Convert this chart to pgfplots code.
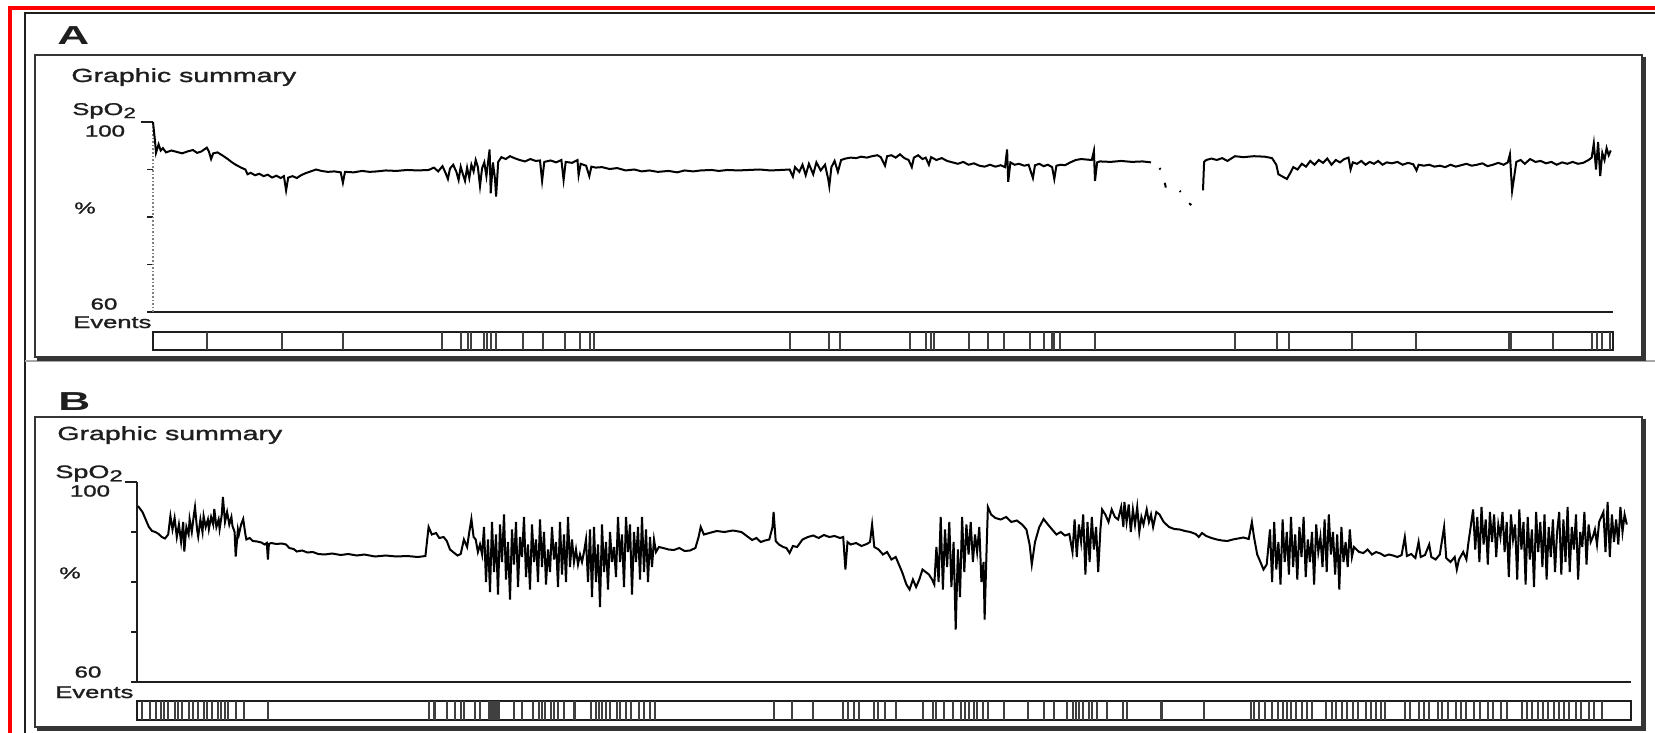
\documentclass[border=0pt]{standalone}
\usepackage{fontspec}
\setmainfont{Liberation Sans}
\newfontfamily\labfont[FakeBold=1.2]{Liberation Sans}
\usepackage{graphicx}
\usepackage{pgfplots}
\usepackage{pgfplotstable}
\pgfplotsset{compat=1.18}
\newcommand{\ws}[1]{\scalebox{1.5}[1]{#1}}
\definecolor{ink}{HTML}{1E1E1E}

\pgfplotstableread{
x y
153 100.0
155 96.0
156 93.5
158.6 95.3
160.7 94.0
162.9 94.5
166 93.6
171.4 94.0
176.8 93.7
182.1 93.4
187.5 93.8
192.9 94.1
197.1 93.5
201.4 93.8
206.8 94.6
208.9 93.8
211.1 92.2
213.2 93.4
217.5 93.6
222.9 92.9
227.1 92.3
231.4 91.6
235.7 91.0
241.1 90.4
245.4 90.0
247.5 89.0
250.7 89.3
255 88.8
259.3 89.1
263.6 88.6
267.9 88.9
272.1 88.3
276.4 88.7
280.7 88.2
283.9 88.6
286.1 85.6
288.2 88.3
292.5 88.6
296.8 88.2
301.1 88.8
305.3 89.2
310.7 89.6
316.1 90.0
321.4 89.7
327.9 89.5
334.3 89.6
340.7 89.4
342.9 87.2
345 89.5
353.6 89.4
362.1 89.7
369.6 89.5
377.1 89.6
385.7 89.8
396.4 89.7
407.1 89.9
417.9 89.8
428.6 89.9
433.9 90.4
438.2 89.6
442.5 90.7
445.7 89.2
447.9 88.0
450 90.2
453.2 91.0
456.4 89.5
458.6 87.8
460.7 90.6
462.9 89.0
465 87.6
467.1 90.4
469.3 88.2
471.4 91.0
473.6 89.6
475.7 92.0
477.9 90.5
480 86.5
482.1 90.3
484.3 91.5
486.4 88.6
488.6 92.5
489.6 94.2
490.7 85.0
492.9 91.5
495 88.0
496.1 84.3
498.2 91.6
501.4 92.6
505.7 92.2
510 92.8
514.3 92.4
519.6 92.0
525 91.7
530.4 92.2
535.7 91.8
540 91.9
542.1 87.6
544.3 91.6
550.7 91.9
556.1 91.5
561.4 92.0
563.6 87.8
565.7 91.6
572.1 91.4
577.5 92.0
578.6 88.8
580.7 91.2
586.1 90.8
589.3 88.6
591.4 90.6
595.7 90.4
602.1 90.5
609.6 90.1
617.1 90.3
625.7 89.8
634.3 90.0
641.8 89.6
649.3 89.8
657.9 89.5
668.6 89.7
677.1 89.4
684.6 89.8
693.2 89.6
700.7 89.8
711.4 89.9
718.9 89.7
727.5 89.9
738.2 89.8
748.9 89.9
759.6 90.0
770.4 89.8
781.1 89.9
789.6 90.0
792.9 88.5
795 90.5
799.3 89.5
802.5 91.0
805.7 88.8
808.9 91.2
813.2 89.0
816.4 91.5
820.7 89.8
825 91.0
828.2 88.0
829.3 86.5
831.4 90.5
834.6 91.8
837.9 89.5
841.1 92.0
845.4 92.3
850.7 92.5
856.1 92.4
861.4 92.7
866.8 92.5
872.1 92.8
877.5 93.0
880.7 92.6
885 90.8
887.1 92.8
891.4 93.0
895.7 92.5
900 93.2
904.3 92.4
908.6 92.0
911.8 90.5
913.9 92.5
918.2 93.0
922.5 92.2
925.7 92.5
928.9 91.0
931.1 92.6
936.4 92.0
941.8 92.4
947.1 91.8
952.5 91.5
957.9 91.2
963.2 91.6
968.6 91.0
973.9 91.3
979.3 90.8
984.6 90.6
990 91.0
995.4 90.6
1000.7 90.9
1005 90.5
1007.1 94.2
1008.2 87.4
1010.4 91.5
1014.6 91.0
1018.9 91.2
1024.3 90.8
1028.6 91.0
1032.9 88.2
1035 90.9
1039.3 91.2
1043.6 90.7
1047.9 91.0
1052.1 90.5
1054.3 88.0
1056.4 90.8
1060.7 91.0
1065 90.9
1070.4 91.5
1075.7 92.0
1081.1 92.2
1086.4 92.1
1091.8 92.0
1093.9 93.9
1095 87.6
1097.1 91.5
1100 91.7
1110.6 91.6
1121.2 91.8
1131.9 91.6
1142.5 91.7
1151 91.5
nan nan
1159.5 90.3
1160.5 90.0
nan nan
1164.8 87.2
1165.8 86.2
nan nan
1179.7 85.5
1180.7 85.3
nan nan
1189.2 82.9
1191.3 82.5
nan nan
1203 85.6
1204.1 91.6
1206.2 92.0
1211.5 92.3
1216.8 92.0
1222.1 92.4
1227.4 91.8
1234.9 92.8
1243.4 92.6
1254 92.8
1264.6 92.7
1272 92.4
1276.3 91.0
1278.4 89.0
1282.7 88.5
1286.9 88.0
1290.1 89.2
1293.3 90.5
1297.5 90.0
1301.8 91.2
1306 90.6
1310.3 91.8
1314.5 91.0
1318.8 92.0
1323 91.4
1327.3 92.3
1331.5 91.0
1335.8 92.0
1340 91.5
1344.3 92.2
1348.5 92.5
1350.6 90.0
1352.8 91.5
1357 91.2
1361.3 91.8
1365.5 91.0
1369.7 91.6
1374 91.2
1378.2 91.8
1382.5 91.0
1386.7 91.5
1392 91.3
1397.4 91.6
1402.7 91.0
1408 91.4
1413.3 91.1
1416.5 89.8
1418.6 91.0
1423.9 90.8
1429.2 91.0
1434.5 90.6
1439.8 90.8
1445.2 90.5
1450.5 91.0
1455.8 90.6
1461.1 90.9
1466.4 91.2
1471.7 90.8
1477 91.0
1482.3 91.3
1487.6 90.7
1492.9 91.0
1498.3 91.4
1503.6 91.0
1507.8 91.5
1509.9 93.2
1512.1 85.5
1514.2 88.5
1516.3 91.6
1520.6 92.0
1524.8 91.2
1530.1 92.2
1535.4 91.6
1540.7 91.8
1546 91.3
1551.4 91.6
1556.7 91.0
1562 91.5
1567.3 91.2
1572.6 91.6
1577.9 91.2
1583.2 91.4
1588.5 92.0
1591.7 92.5
1593.8 95.5
1596 90.0
1598.1 95.8
1600.2 88.6
1602.3 93.5
1604.5 92.0
1606.6 94.5
1608.7 93.0
1610.8 94.0
}\traceA

\pgfplotstableread{
x y
207 1
282 1
343 1
442 1
461 1
468 1
471 1
484 1
487 1
491 1
496 1
523 1
543 1
565 1
580 1
590 1
594 1
790 1
829 1
840 1
910 1
926 1
931 1
934 1
969 1
988 1
1004 1
1030 1
1044 1
1052 1
1054 1
1060 1
1095 1
1235 1
1277 1
1289 1
1352 1
1416 1
1509 1
1510.5 1
1553 1
1592 1
1597 1
1602 1
1610 1
}\eventsA

\pgfplotstableread{
x y
138 95.2
142.5 94.0
145.7 92.5
148.9 91.0
152.1 90.2
155.4 90.0
158.6 89.6
161.8 89.0
165 88.7
168.2 89.5
170.4 93.2
172.5 90.5
174.6 92.8
176.8 89.0
178.9 91.5
181.1 88.0
183.2 92.0
184.3 86.1
186.4 91.0
188.6 89.5
189.6 92.6
191.8 90.0
193.9 93.5
195 95.0
197.1 90.5
198.2 89.1
200.4 92.5
202.5 90.0
203.6 93.2
205.7 91.0
207.9 92.5
208.9 90.6
211.1 93.0
213.2 91.5
214.3 94.6
216.4 91.0
218.6 92.5
219.6 90.6
221.8 93.5
222.9 97.0
225 92.0
227.1 94.0
229.3 91.5
231.4 93.0
232.5 91.2
234.6 90.0
235.7 85.1
237.9 90.5
238.9 89.5
241.1 91.5
243.2 92.6
245.4 89.5
246.4 88.5
249.6 88.8
252.9 88.2
257.1 88.1
261.4 87.9
264.6 87.5
266.8 87.8
267.9 84.5
268.9 87.6
271.1 87.8
276.4 87.6
281.8 87.7
286.1 87.5
289.3 86.8
293.6 86.6
296.8 86.1
302.1 86.3
307.5 85.9
312.9 86.0
318.2 85.6
324.6 85.5
332.1 85.7
340.7 85.4
348.2 85.6
356.8 85.3
364.3 85.5
375 85.1
385.7 85.3
396.4 85.1
407.1 85.2
417.9 85.0
425.4 85.2
428.6 91.0
431.8 89.5
436.1 89.8
439.3 88.8
443.6 89.0
446.8 88.2
450 86.5
454.3 85.8
457.5 85.3
460.7 85.6
463.9 88.5
467.1 87.0
469.3 90.0
471.4 92.6
473.6 89.0
475.7 88.5
477.9 86.0
480 87.5
482.1 85.5
484 91.0
486 80.0
488 88.5
490 78.0
492 92.0
494 82.0
496 89.5
498 77.5
500 91.5
502 84.0
504 93.5
506 80.5
508 88.0
510 76.5
512 90.5
514 83.5
516 92.0
518 79.0
520 89.0
522 85.0
524 93.0
526 81.0
528 87.5
530 78.5
532 91.5
534 84.0
536 88.5
538 80.0
540 92.5
542 83.0
544 90.0
546 79.5
548 86.5
550 82.0
552 91.0
554 84.5
556 88.0
558 79.0
560 92.0
562 81.5
564 89.5
566 80.0
568 93.0
570 83.0
572 88.5
574 84.0
576 86.5
578 83.5
580 85.5
582 84.0
584 86.0
586 88.5
588 80.0
590 90.5
592 77.0
594 91.0
596 80.0
598 87.5
600 75.0
602 91.5
604 82.0
606 88.0
608 78.5
610 90.0
612 84.0
614 87.0
616 81.0
618 93.0
620 84.0
622 89.5
624 79.0
626 93.0
628 86.0
630 91.5
632 77.5
634 90.0
636 84.0
638 91.0
640 80.5
642 93.0
644 82.0
646 90.5
648 80.0
650 89.0
652 83.0
654 88.5
656 86.0
658.9 87.0
663.2 86.8
668.6 86.5
673.9 86.4
679.3 86.8
684.6 86.2
690 86.3
695.4 86.8
698.6 89.0
700.7 91.0
703.9 89.5
709.3 89.8
716.8 90.2
724.3 90.0
732.9 90.3
741.4 90.0
746.8 89.2
752.1 88.4
756.4 88.8
760.7 88.0
765 88.3
769.3 88.5
772.5 91.0
773.6 94.0
775.7 88.2
778.9 87.5
783.2 87.0
786.4 86.8
789.6 85.8
792.9 87.2
797.1 87.0
802.5 88.5
807.9 89.0
813.2 89.3
818.6 88.8
823.9 89.4
829.3 89.0
834.6 89.2
840 88.8
843.2 89.0
845.4 82.5
847.5 88.0
850.7 87.5
856.1 87.8
861.4 87.2
866.8 87.6
870 88.0
872.1 91.5
874.3 87.0
878.6 86.5
882.9 85.5
887.1 86.0
891.4 84.5
895.7 85.0
898.9 83.5
902.1 82.0
906.4 79.5
909.6 78.5
912.9 80.5
916.1 79.0
919.3 80.5
922.5 82.5
925.7 82.0
928.9 81.5
932.1 80.5
934.3 79.5
936.4 87.0
938.6 80.0
940.7 93.0
942.9 78.5
945 90.5
947.1 83.0
949.3 92.0
951.4 79.0
953.6 88.0
955.7 70.5
957.9 86.5
960 77.0
962.1 93.0
964.3 82.0
966.4 91.5
968.6 85.5
970.7 92.0
972.9 84.0
975 89.5
977.1 86.0
979.3 91.0
981.4 80.0
983.6 84.0
984.6 72.5
986.8 88.0
987.9 95.0
991.1 93.5
995.4 92.8
1000.7 92.5
1006.1 93.0
1011.4 92.0
1016.8 92.3
1022.1 91.5
1026.4 90.5
1029.6 87.5
1031.8 83.5
1035 88.0
1039.3 91.0
1043.6 92.6
1047.9 91.5
1052.1 90.5
1056.4 89.5
1060.7 90.0
1065 89.3
1069.3 89.6
1072.5 86.0
1074.6 92.5
1076.8 85.0
1078.9 91.5
1081.1 88.0
1083.2 93.5
1085.4 81.5
1087.5 92.0
1089.6 84.0
1091.8 93.0
1093.9 86.5
1096.1 91.0
1098.2 82.0
1100.4 90.5
1102.1 94.5
1105.3 93.5
1108.5 92.0
1111.7 94.5
1114.9 93.0
1118.1 92.5
1121.2 95.0
1123.4 91.0
1124.4 96.0
1126.6 92.0
1128.7 95.5
1130.8 90.0
1132.9 94.5
1135 91.5
1137.2 95.0
1139.3 90.0
1141.4 93.0
1143.5 91.5
1146.7 94.5
1148.9 92.0
1151 93.5
1153.1 91.0
1156.3 94.0
1159.5 93.5
1163.7 92.0
1169 91.0
1174.3 90.6
1179.7 90.5
1185 90.2
1190.3 90.0
1195.6 89.6
1198.8 89.0
1202 89.8
1206.2 89.2
1211.5 88.8
1216.8 88.5
1222.1 88.3
1227.4 88.2
1232.8 88.5
1238.1 88.7
1243.4 88.9
1248.7 88.6
1251.9 92.0
1254 89.0
1257.2 85.5
1260.4 84.0
1263.5 82.5
1266.7 83.5
1270 90.5
1272.1 80.0
1274.2 92.0
1276.3 82.5
1278.4 88.0
1280.5 79.5
1282.6 92.5
1284.7 84.0
1286.8 90.0
1288.9 81.5
1291 93.0
1293.1 83.0
1295.2 89.5
1297.3 80.5
1299.4 91.0
1301.5 85.0
1303.6 93.0
1305.7 81.0
1307.8 88.5
1309.9 84.0
1312 90.0
1314.1 79.5
1316.2 91.5
1318.3 86.0
1320.4 89.0
1322.5 83.0
1324.6 92.5
1326.7 82.0
1328.8 93.5
1330.9 85.5
1333 90.0
1335.1 81.5
1337.2 89.5
1339.3 78.5
1341.4 91.0
1343.5 84.0
1345.6 88.0
1347.7 83.0
1349.8 90.5
1351.9 85.0
1354 87.0
1359.1 86.0
1363.4 85.8
1367.6 86.5
1371.9 85.5
1376.1 86.0
1380.4 85.7
1384.6 85.2
1388.9 85.5
1393.1 85.3
1397.4 85.0
1401.6 85.4
1404.8 89.0
1406.9 85.2
1411.2 85.6
1415.4 84.8
1418.6 88.0
1420.7 85.0
1425 85.4
1429.2 87.5
1431.3 85.0
1435.6 84.5
1439.8 85.5
1444.1 91.0
1446.2 84.8
1450.5 84.0
1454.7 85.0
1456.8 82.5
1459 84.5
1463.2 86.0
1466.4 84.5
1468.5 88.0
1471 91.5
1473.1 94.5
1475.2 86.5
1477.3 93.0
1479.4 84.0
1481.5 95.0
1483.6 87.5
1485.7 92.5
1487.8 83.5
1489.9 94.0
1492 88.0
1494.1 93.5
1496.2 85.0
1498.3 91.5
1500.4 89.0
1502.5 94.0
1504.6 86.0
1506.7 92.0
1508.8 81.0
1510.9 93.5
1513 88.5
1515.1 91.5
1517.2 80.5
1519.3 94.5
1521.4 86.5
1523.5 92.0
1525.6 79.5
1527.7 93.0
1529.8 84.5
1531.9 90.5
1534 79.0
1536.1 94.0
1538.2 86.0
1540.3 92.0
1542.4 83.0
1544.5 93.5
1546.6 80.5
1548.7 91.0
1550.8 85.0
1552.9 92.5
1555 82.0
1557.1 90.0
1559.2 94.0
1561.3 81.5
1563.4 92.5
1565.5 84.0
1567.6 95.0
1569.7 82.0
1571.8 91.0
1573.9 86.5
1576 93.5
1578.1 80.5
1580.2 90.0
1582.3 87.0
1584.4 94.0
1586.5 83.5
1588.6 91.5
1590.7 88.0
1592.8 89.0
1594.9 90.5
1597 87.5
1599.1 92.0
1603.4 94.0
1605.5 86.0
1607.6 96.0
1609.8 85.0
1611.9 93.5
1614 88.0
1616.1 92.5
1618.3 87.5
1620.4 95.0
1622.5 90.0
1624.6 93.5
1626.8 91.5
}\traceB

\pgfplotstableread{
x y
142.5 1
150 1
156.4 1
160.7 1
163.9 1
168.2 1
174.6 1
177.9 1
182.1 1
188.6 1
192.9 1
198.2 1
203.6 1
206.8 1
212.1 1
217.5 1
220.7 1
225 1
228.2 1
235.7 1
244.3 1
267.9 1
428.6 1
433.9 1
435 1
446.8 1
455.4 1
460.7 1
463.9 1
474.6 1
480 1
489 1
491 1
493 1
495 1
497 1
499 1
514.3 1
521.8 1
532.5 1
538.9 1
542.1 1
545.4 1
550.7 1
553.9 1
558.2 1
563.6 1
574.3 1
575.4 1
591.4 1
595.7 1
598.9 1
602.1 1
606.4 1
609.6 1
617.1 1
620.4 1
625.7 1
631.1 1
638.6 1
643.9 1
650.4 1
654.6 1
773.6 1
791.8 1
813.2 1
843.2 1
847.5 1
853.9 1
859.3 1
874.3 1
877.5 1
885 1
895.7 1
922.5 1
933.2 1
936.4 1
943.9 1
952.5 1
961.1 1
965.4 1
968.6 1
973.9 1
977.1 1
982.5 1
987.9 1
1003.9 1
1027.5 1
1043.6 1
1054.3 1
1067.1 1
1072.5 1
1075.7 1
1078.9 1
1083.2 1
1088.6 1
1091.8 1
1097.1 1
1107.4 1
1123.4 1
1126.6 1
1160.5 1
1161.5 1
1204.1 1
1250.8 1
1254 1
1259.3 1
1264.6 1
1272 1
1278.4 1
1282.7 1
1286.9 1
1291.1 1
1296.4 1
1301.8 1
1307.1 1
1312.4 1
1326.2 1
1331.5 1
1335.8 1
1342.1 1
1347.4 1
1352.8 1
1358.1 1
1365.5 1
1370.8 1
1376.1 1
1381.4 1
1384.6 1
1404.8 1
1410.1 1
1418.6 1
1423.9 1
1429.2 1
1437.7 1
1441.9 1
1448.3 1
1455.7 1
1461.1 1
1466.4 1
1473.8 1
1480.2 1
1487.6 1
1492.9 1
1501.4 1
1506.7 1
1521.6 1
1526.9 1
1532.2 1
1537.5 1
1542.8 1
1548.2 1
1553.5 1
1558.8 1
1564.1 1
1569.4 1
1575.8 1
1581.1 1
1588.5 1
1593.8 1
1602.3 1
}\eventsB

\pgfplotsset{
  spo2/.style={
    scale only axis, anchor=south west,
    axis x line*=bottom, axis y line*=left,
    ymin=60, ymax=100,
    ytick={60,70,80,90}, yticklabels={},
    extra y ticks={100}, extra y tick labels={},
    extra y tick style={major tick length=6pt},
    xtick=\empty,
    tick align=outside, major tick length=3pt,
    clip=false, unbounded coords=jump,
    axis line style={-, line width=0.8pt, ink},
    every inner x axis line/.append style={-},
    every inner y axis line/.append style={-},
    every outer x axis line/.append style={-},
    every outer y axis line/.append style={-},
    every tick/.style={ink, line width=0.7pt},
  },
  evbar/.style={
    scale only axis, anchor=south west,
    ymin=0, ymax=1, xtick=\empty, ytick=\empty,
    axis line style={line width=0.8pt, ink},
    clip=true,
  },
}

\begin{document}
\begin{tikzpicture}
\begin{scope}[x=0.5pt,y=-0.5pt]
  \path[use as bounding box] (0,0) rectangle (1655,733);
  % red frame
  \draw[red, line width=2pt] (9.5,745) -- (9.5,8) -- (1665,8);
  % outer boxes
  \draw[ink, line width=1pt] (25,745) -- (25,13) -- (1665,13);
  \draw[black!35, line width=1pt] (25,361) -- (1665,361);
  % inner boxes
  \draw[ink!90, line width=1.4pt] (35,55) rectangle (1642,357);
  \draw[ink!90, line width=1.2pt] (1644.5,57) -- (1644.5,359.5) -- (37,359.5);
  \draw[ink!90, line width=1.4pt] (35,417) rectangle (1642,727);
  \draw[ink!90, line width=1.2pt] (1644.5,419) -- (1644.5,729.5) -- (37,729.5);
  % panel letters
  \node[anchor=base west, inner sep=0, text=ink, font=\fontsize{13}{13}\selectfont\bfseries] at (57,45) {\scalebox{1.7}[1]{A}};
  \node[anchor=base west, inner sep=0, text=ink, font=\fontsize{13}{13}\selectfont\bfseries] at (58,410) {\scalebox{1.7}[1]{B}};
  % panel A texts
  \node[anchor=base west, inner sep=0, text=ink, font=\labfont\fontsize{9.5}{10}\selectfont] at (71,82) {\ws{Graphic summary}};
  \node[anchor=base west, inner sep=0, text=ink, font=\labfont\fontsize{8.5}{9}\selectfont] at (72,115) {\ws{SpO\raisebox{-0.35ex}{\fontsize{7.5}{8}\selectfont 2}}};
  \node[inner sep=0, text=ink, font=\labfont\fontsize{8}{9}\selectfont] at (105,131) {\ws{100}};
  \node[inner sep=0, text=ink, font=\labfont\fontsize{8}{9}\selectfont] at (85,208) {\ws{\%}};
  \node[inner sep=0, text=ink, font=\labfont\fontsize{8}{9}\selectfont] at (104,304) {\ws{60}};
  \node[anchor=base west, inner sep=0, text=ink, font=\labfont\fontsize{8.5}{9}\selectfont] at (73,328) {\ws{Events}};
  % panel B texts
  \node[anchor=base west, inner sep=0, text=ink, font=\labfont\fontsize{9.5}{10}\selectfont] at (57,440) {\ws{Graphic summary}};
  \node[anchor=base west, inner sep=0, text=ink, font=\labfont\fontsize{9}{10}\selectfont] at (55,478) {\ws{SpO\raisebox{-0.35ex}{\fontsize{8}{9}\selectfont 2}}};
  \node[inner sep=0, text=ink, font=\labfont\fontsize{8}{9}\selectfont] at (90,491) {\ws{100}};
  \node[inner sep=0, text=ink, font=\labfont\fontsize{8}{9}\selectfont] at (70,573) {\ws{\%}};
  \node[inner sep=0, text=ink, font=\labfont\fontsize{8}{9}\selectfont] at (88,672) {\ws{60}};
  \node[anchor=base west, inner sep=0, text=ink, font=\labfont\fontsize{8.5}{9}\selectfont] at (55,698) {\ws{Events}};
\end{scope}

% Panel A trace
\begin{axis}[spo2, at={(76.5pt,-156pt)}, width=730pt, height=95pt,
  xmin=153, xmax=1613,
  y axis line style={gray, densely dotted, line width=0.6pt}]
  \addplot[black, line width=1pt] table[x=x,y=y] {\traceA};
\end{axis}
% Panel A events
\begin{axis}[evbar, at={(76.5pt,-175pt)}, width=730pt, height=9pt,
  xmin=153, xmax=1613]
  \addplot[ycomb, no markers, ink!85, line width=1pt] table[x=x,y=y] {\eventsA};
\end{axis}

% Panel B trace
\begin{axis}[spo2, at={(68.5pt,-341pt)}, width=747pt, height=100pt,
  xmin=137, xmax=1631]
  \addplot[black, line width=1pt] table[x=x,y=y] {\traceB};
\end{axis}
% Panel B events
\begin{axis}[evbar, at={(68.5pt,-360pt)}, width=747pt, height=9.5pt,
  xmin=137, xmax=1631]
  \addplot[ycomb, no markers, ink!85, line width=1pt] table[x=x,y=y] {\eventsB};
\end{axis}
\end{tikzpicture}
\end{document}
